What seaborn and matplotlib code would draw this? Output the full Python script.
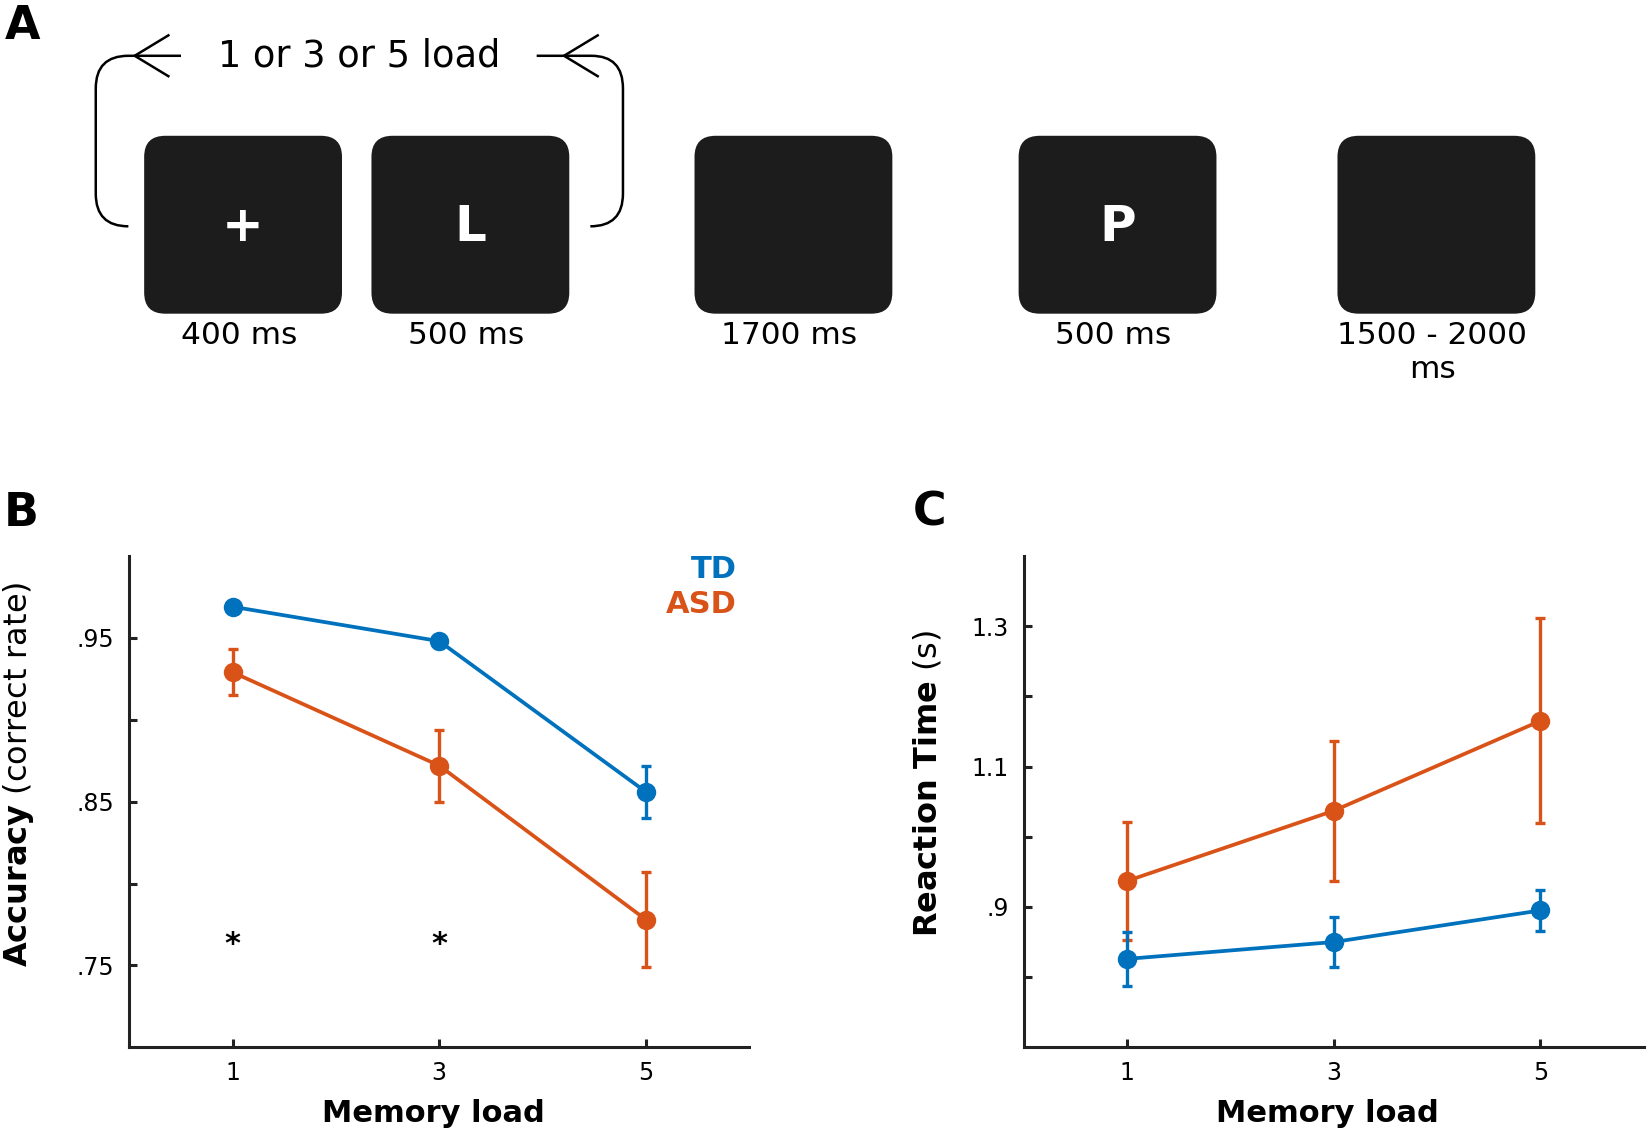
import numpy as np
import pandas as pd
import matplotlib
matplotlib.use("Agg")
import matplotlib.pyplot as plt
import seaborn as sns
from matplotlib.patches import FancyBboxPatch
from matplotlib.path import Path
from matplotlib.patches import PathPatch

# ---------------- data ----------------
loads = [1, 3, 5]
groups = ["TD", "ASD"]
acc_td = [0.969, 0.948, 0.856]
acc_td_err = [0.002, 0.004, 0.016]
acc_asd = [0.929, 0.872, 0.778]
acc_asd_err = [0.014, 0.022, 0.029]
rt_td = [0.826, 0.850, 0.895]
rt_td_err = [0.039, 0.036, 0.029]
rt_asd = [0.937, 1.037, 1.165]
rt_asd_err = [0.084, 0.100, 0.146]
sig_loads = [1, 3]
sig_level = 0.763

acc_major = [0.75, 0.85, 0.95]
acc_major_labels = [".75", ".85", ".95"]
acc_minor = [0.80, 0.90]
rt_major = [0.9, 1.1, 1.3]
rt_major_labels = [".9", "1.1", "1.3"]
rt_minor = [0.8, 1.0, 1.2]

box_symbols = ["+", "L", "", "P", ""]
box_durations = ["400 ms", "500 ms", "1700 ms", "500 ms", "1500 - 2000\nms"]
loop_label = "1 or 3 or 5 load"

# ---------------- style ----------------
sns.set_theme(style="white")
plt.rcParams["font.family"] = ["DejaVu Sans"]
plt.rcParams["mathtext.fontset"] = "dejavusans"
plt.rcParams["text.color"] = "black"
plt.rcParams["axes.labelcolor"] = "black"
plt.rcParams["xtick.color"] = "black"
plt.rcParams["ytick.color"] = "black"

C_TD = "#0072BD"
C_ASD = "#D95319"
INK = "#1c1c1c"
palette = {"TD": C_TD, "ASD": C_ASD}

fig = plt.figure(figsize=(16.5, 11.4), dpi=100)

# ---------------- panel A (diagram) ----------------
axA = fig.add_axes([0, 0, 1, 1])
axA.set_xlim(0, 1568)
axA.set_ylim(1083, 0)
axA.axis("off")

box_left = [137, 353, 660, 968, 1271]
box_w, box_h, box_top = 188, 169, 129
for x0, sym, dur in zip(box_left, box_symbols, box_durations):
    p = FancyBboxPatch((x0 + 20, box_top + 20), box_w - 40, box_h - 40,
                       boxstyle="round,pad=20", fc=INK, ec=INK, lw=0)
    axA.add_patch(p)
    cx = x0 + box_w / 2
    if sym:
        axA.text(cx, box_top + box_h / 2 + 2, sym, color="white", fontsize=36,
                 fontweight="bold", ha="center", va="center")
    axA.text(cx - 4, 305, dur, color="black", fontsize=22.5, ha="center",
             va="top", linespacing=1.2)

lw_loop = 1.8
left_path = Path([(122, 215), (91, 215), (91, 184), (91, 84), (91, 53), (122, 53), (172, 53)],
                 [Path.MOVETO, Path.CURVE3, Path.CURVE3, Path.LINETO, Path.CURVE3, Path.CURVE3, Path.LINETO])
axA.add_patch(PathPatch(left_path, fc="none", ec="black", lw=lw_loop))
axA.plot([161, 128, 161], [33, 53, 73], color="black", lw=lw_loop, solid_capstyle="butt")
right_path = Path([(510, 53), (562, 53), (592, 53), (592, 84), (592, 184), (592, 215), (561, 215)],
                  [Path.MOVETO, Path.LINETO, Path.CURVE3, Path.CURVE3, Path.LINETO, Path.CURVE3, Path.CURVE3])
axA.add_patch(PathPatch(right_path, fc="none", ec="black", lw=lw_loop))
axA.plot([569, 536, 569], [33, 53, 73], color="black", lw=lw_loop, solid_capstyle="butt")
axA.text(341, 53, loop_label, fontsize=26.5, ha="center", va="center")

for letter, (lx, ly) in zip("ABC", [(5, 4), (4, 466), (867, 466)]):
    axA.text(lx, ly, letter, fontsize=33, fontweight="bold", ha="left", va="top")

# ---------------- panels B and C ----------------
def make_df(td, asd):
    return pd.DataFrame({
        "load": loads * 2,
        "value": list(td) + list(asd),
        "group": ["TD"] * len(loads) + ["ASD"] * len(loads),
    })

def panel(rect, td, td_err, asd, asd_err, ylim, major, major_labels, minor):
    ax = fig.add_axes(rect)
    df = make_df(td, asd)
    sns.lineplot(data=df, x="load", y="value", hue="group", hue_order=["ASD", "TD"],
                 palette=palette, marker="o", markersize=14, markeredgewidth=0,
                 linewidth=2.7, errorbar=None, legend=False, ax=ax)
    ax.errorbar(loads, asd, yerr=asd_err, fmt="none", ecolor=C_ASD,
                elinewidth=2.4, capsize=3.5, capthick=2.4)
    ax.errorbar(loads, td, yerr=td_err, fmt="none", ecolor=C_TD,
                elinewidth=2.4, capsize=3.5, capthick=2.4)
    ax.set_xlim(0, 6)
    ax.set_ylim(*ylim)
    ax.set_xticks(loads)
    ax.set_xticklabels([str(l) for l in loads])
    ax.set_yticks(major)
    ax.set_yticklabels(major_labels)
    ax.set_yticks(minor, minor=True)
    for s in ["top", "right"]:
        ax.spines[s].set_visible(False)
    for s in ["left", "bottom"]:
        ax.spines[s].set_linewidth(2.2)
        ax.spines[s].set_color("#222222")
    ax.tick_params(axis="both", which="both", direction="in", length=6,
                   width=2.2, color="#222222", labelsize=17, labelcolor="black")
    ax.tick_params(axis="y", which="both", left=True, pad=11)
    ax.tick_params(axis="x", which="both", bottom=True, pad=10)
    ax.tick_params(axis="y", which="minor", labelleft=False)
    ax.set_xlabel("Memory load", fontsize=22, fontweight="bold")
    ax.xaxis.set_label_coords(0.49, -0.105)
    ax.set_facecolor("none")
    return ax

axB = panel([0.0784, 0.0813, 0.3756, 0.431], acc_td, acc_td_err, acc_asd, acc_asd_err,
            (0.70, 1.00), acc_major, acc_major_labels, acc_minor)
axB.set_ylabel(r"$\bf{Accuracy}$ (correct rate)", fontsize=23)
axB.yaxis.set_label_coords(-0.15, 0.555)
for l in sig_loads:
    axB.text(l, sig_level, "*", fontsize=22, fontweight="bold", ha="center",
             va="center", color="black")
axB.text(0.98, 0.972, "TD", color=C_TD, fontsize=22, fontweight="bold",
         ha="right", va="center", transform=axB.transAxes)
axB.text(0.98, 0.901, "ASD", color=C_ASD, fontsize=22, fontweight="bold",
         ha="right", va="center", transform=axB.transAxes)

axC = panel([0.6205, 0.0813, 0.3756, 0.431], rt_td, rt_td_err, rt_asd, rt_asd_err,
            (0.70, 1.40), rt_major, rt_major_labels, rt_minor)
axC.set_ylabel(r"$\bf{Reaction\ Time}$ (s)", fontsize=23)
axC.yaxis.set_label_coords(-0.13, 0.537)

fig.savefig("out.png", dpi=100)
